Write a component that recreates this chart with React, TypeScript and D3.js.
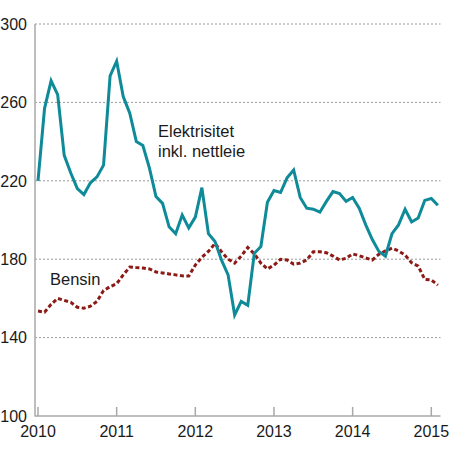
import { useEffect, useRef } from "react";
import * as d3 from "d3";

// monthly index values, Jan 2010 - Feb 2015
const ELEKTRISITET = [
  220, 257, 271, 264, 233, 224, 216, 213, 219, 222, 228, 273.5,
  281, 263, 254.5, 240, 238, 226.5, 212, 208.5, 196.5, 193, 202.5, 196,
  201.5, 216.5, 193, 189, 179.5, 172, 151.5, 158.5, 156.5, 183, 186.5, 209,
  215, 214, 221.5, 225.5, 211.5, 206, 205.5, 204, 209.5, 214.5, 213.5, 209.5,
  211.5, 206, 197.5, 190, 184, 181.5, 193, 197.5, 205.5, 199, 201, 210,
  211, 207.5,
];
const BENSIN = [
  153.6, 153, 157, 160, 159, 158, 155.5, 155, 156, 158.5, 164, 166,
  167.5, 172, 176, 175.7, 175.5, 175, 173.5, 173, 172.5, 172, 171.5, 171.4,
  177, 181, 184, 188, 183.8, 180, 178, 181.6, 186, 182.7, 178, 175,
  177, 180, 179.6, 177.5, 178, 179.6, 183.8, 183.8, 183.3, 181.6, 179.6, 180.5,
  182.7, 181.8, 180.6, 179.6, 182.5, 184.2, 185.6, 184.2, 182.1, 178.2, 176.5, 169.7,
  169.4, 166.8,
];
const Y_TICKS = [100, 140, 180, 220, 260, 300];
const X_TICKS = [2010, 2011, 2012, 2013, 2014, 2015];

const W = 450, H = 458;
const FONT = "'Liberation Sans', Arial, sans-serif";

export default function App() {
  const svgRef = useRef<SVGSVGElement>(null);

  useEffect(() => {
    const svg = d3.select(svgRef.current);
    svg.selectAll("*").remove();

    const x = d3.scaleLinear().domain([2010, 2015]).range([38, 431.3]);
    const y = d3.scaleLinear().domain([100, 300]).range([416, 24]);
    const left = 35, right = 440.5;

    // grid
    Y_TICKS.filter(v => v > 100).forEach(v => {
      svg.append("line").attr("x1", left).attr("x2", right).attr("y1", y(v)).attr("y2", y(v))
        .attr("stroke", "#9a9a9a").attr("stroke-width", 1).attr("stroke-dasharray", "2,2");
    });

    // axes
    svg.append("line").attr("x1", left).attr("x2", left).attr("y1", y(300)).attr("y2", y(100) + 0.5)
      .attr("stroke", "#a8a8a8").attr("stroke-width", 1.5);
    svg.append("line").attr("x1", left).attr("x2", right).attr("y1", y(100)).attr("y2", y(100))
      .attr("stroke", "#a8a8a8").attr("stroke-width", 1.5);
    X_TICKS.forEach(t => {
      svg.append("line").attr("x1", x(t)).attr("x2", x(t)).attr("y1", y(100)).attr("y2", y(100) - 9)
        .attr("stroke", "#a8a8a8").attr("stroke-width", 1.5);
      svg.append("text").attr("x", x(t)).attr("y", 437).attr("text-anchor", "middle")
        .attr("font-family", FONT).attr("font-size", 16).attr("fill", "#1a1a1a").text(t);
    });
    Y_TICKS.forEach(v => {
      svg.append("text").attr("x", 27).attr("y", y(v)).attr("dy", "0.36em").attr("text-anchor", "end")
        .attr("font-family", FONT).attr("font-size", 16).attr("fill", "#1a1a1a").text(v);
    });

    const line = d3.line<number>().x((_, i) => x(2010 + i / 12)).y(d => y(d));

    svg.append("path").datum(BENSIN).attr("d", line).attr("fill", "none")
      .attr("stroke", "#8c1a17").attr("stroke-width", 3).attr("stroke-dasharray", "4,2.5");
    svg.append("path").datum(ELEKTRISITET).attr("d", line).attr("fill", "none")
      .attr("stroke", "#0e8a98").attr("stroke-width", 3).attr("stroke-linejoin", "miter");

    // labels
    const lbl = (tx: string, lx: number, ly: number) =>
      svg.append("text").attr("x", lx).attr("y", ly).attr("font-family", FONT)
        .attr("font-size", 16.5).attr("fill", "#1a1a1a").text(tx);
    lbl("Elektrisitet", 158, 137);
    lbl("inkl. nettleie", 158, 157);
    lbl("Bensin", 50, 285);
  }, []);

  return (
    <svg ref={svgRef} width={W} height={H}
      style={{ position: "absolute", left: 0, top: 0, background: "#fff" }} />
  );
}
